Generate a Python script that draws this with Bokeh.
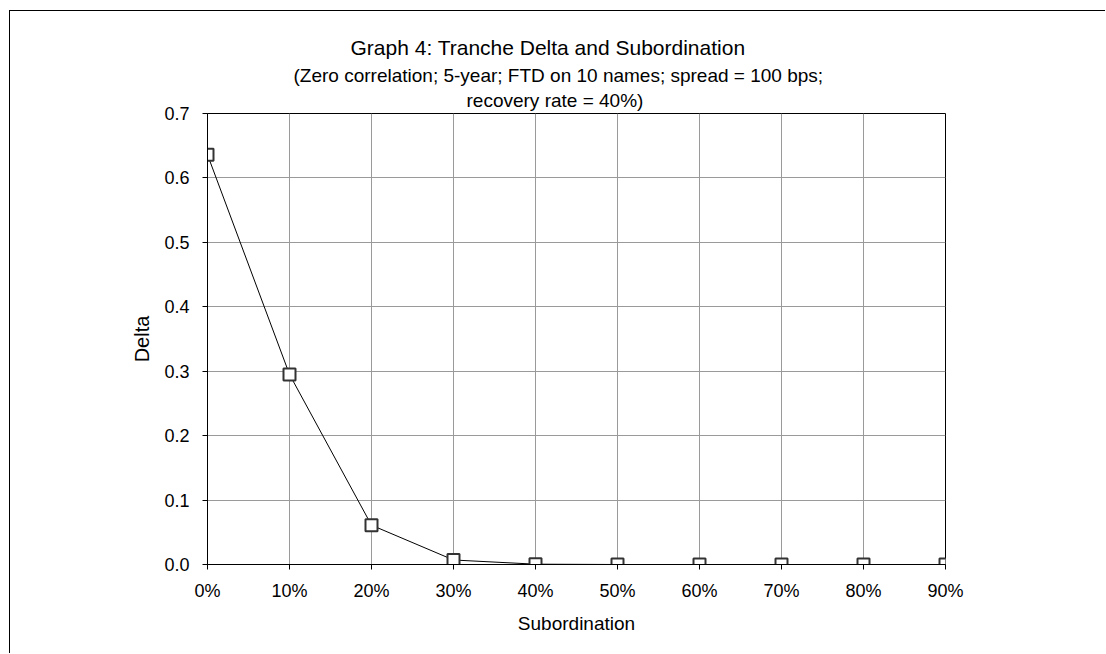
from bokeh.plotting import figure
from bokeh.models import Title, FixedTicker, NumeralTickFormatter, Range1d
from bokeh.embed import file_html
from bokeh.resources import INLINE

# Tranche delta versus subordination level
subordination = [0.0, 0.1, 0.2, 0.3, 0.4, 0.5, 0.6, 0.7, 0.8, 0.9]
delta = [0.636, 0.295, 0.061, 0.007, 0.0005, 0.0, 0.0, 0.0, 0.0, 0.0]

x_ticks = [0.0, 0.1, 0.2, 0.3, 0.4, 0.5, 0.6, 0.7, 0.8, 0.9]
y_ticks = [0.0, 0.1, 0.2, 0.3, 0.4, 0.5, 0.6, 0.7]

FONT = "Liberation Sans"

p = figure(
    width=1096, height=643,
    output_backend="svg", toolbar_location=None,
    x_range=Range1d(0.0, 0.9), y_range=Range1d(0.0, 0.7),
    min_border_left=197, min_border_right=161,
    min_border_top=102, min_border_bottom=90,
    title=None,
)
p.styles = {
    "border-left": "1px solid #000000",
    "border-top": "1px solid #000000",
    "margin-left": "9px",
    "margin-top": "10px",
}

# stacked titles, left-anchored with offsets so they sit centred on the chart area;
# the last one added sits on top
p.add_layout(Title(text="recovery rate = 40%)", align="left", offset=259,
                   text_font=FONT, text_font_size="19px", text_font_style="normal",
                   text_color="#000000", standoff=5), "above")
p.add_layout(Title(text="(Zero correlation; 5-year; FTD on 10 names; spread = 100 bps;",
                   align="left", offset=86, text_font=FONT,
                   text_font_size="19px", text_font_style="normal",
                   text_color="#000000", standoff=0), "above")
p.add_layout(Title(text="Graph 4:  Tranche Delta and Subordination", align="left",
                   offset=143, text_font=FONT, text_font_size="21px",
                   text_font_style="normal", text_color="#000000", standoff=7), "above")

p.outline_line_color = "#000000"
p.outline_line_width = 1
p.background_fill_color = "#ffffff"
p.border_fill_color = "#ffffff"

p.xgrid.grid_line_color = "#9a9a9a"
p.ygrid.grid_line_color = "#9a9a9a"
p.xgrid.ticker = FixedTicker(ticks=x_ticks)
p.ygrid.ticker = FixedTicker(ticks=y_ticks)

for ax in (p.xaxis[0], p.yaxis[0]):
    ax.axis_line_color = "#000000"
    ax.major_tick_line_color = "#000000"
    ax.minor_tick_line_color = None
    ax.major_tick_in = 0
    ax.major_tick_out = 5
    ax.major_label_text_font = FONT
    ax.major_label_text_font_size = "18px"
    ax.major_label_text_color = "#000000"
    ax.axis_label_text_font = FONT
    ax.axis_label_text_font_style = "normal"
    ax.axis_label_text_color = "#000000"

p.xaxis.ticker = FixedTicker(ticks=x_ticks)
p.xaxis.formatter = NumeralTickFormatter(format="0%")
p.xaxis.axis_label = "Subordination"
p.xaxis.axis_label_text_font_size = "19px"
p.xaxis.major_label_standoff = 11
p.xaxis.axis_label_standoff = 9

p.yaxis.ticker = FixedTicker(ticks=y_ticks)
p.yaxis.formatter = NumeralTickFormatter(format="0.0")
p.yaxis.axis_label = "Delta"
p.yaxis.axis_label_text_font_size = "20px"
p.yaxis.major_label_standoff = 13
p.yaxis.axis_label_standoff = 8

p.line(subordination, delta, line_color="#000000", line_width=1)
p.scatter(subordination, delta, marker="square", size=12,
          fill_color="#ffffff", line_color="#333333", line_width=2)

open("out.html", "w").write(file_html(p, INLINE))
